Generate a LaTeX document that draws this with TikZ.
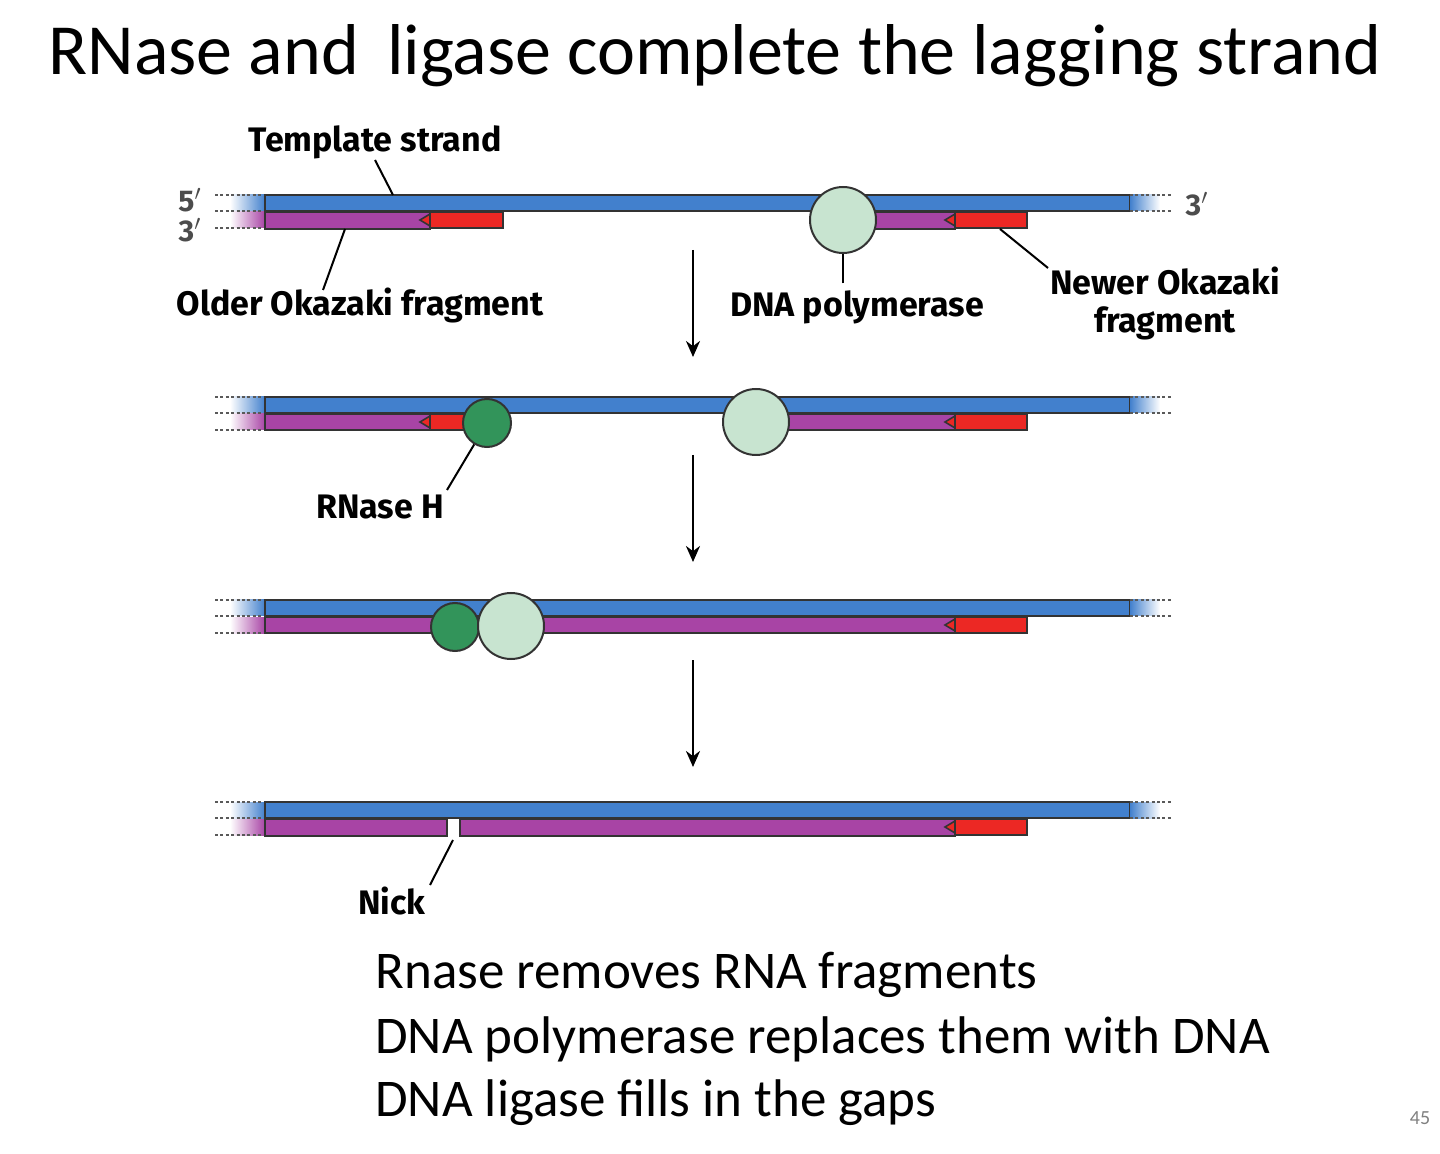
\documentclass[tikz,border=0pt]{standalone}
\usepackage{fontspec}
\setmainfont{Carlito}
\newfontfamily\lab{Fira Sans}
\usetikzlibrary{arrows.meta}
\begin{document}
\begin{tikzpicture}[x=0.5pt,y=-0.5pt,
  lbl/.style={font=\lab\fontsize{17}{19}\selectfont\bfseries,align=center},
  lead/.style={line width=1pt},
  dashline/.style={dash pattern=on 1.5pt off 1.2pt,line width=1.1pt,gray!70!black},
  bluebar/.style={fill=bluec,draw=black!80,line width=0.8pt},
  purpbar/.style={fill=purpc,draw=black!80,line width=0.8pt},
  redbar/.style={fill=redc,draw=black!80,line width=0.8pt},
  pol/.style={circle,fill=polc,draw=black!80,line width=1pt,minimum size=33pt,inner sep=0},
  rnh/.style={circle,fill=rnhc,draw=black!80,line width=1pt,minimum size=24pt,inner sep=0},
  steparrow/.style={-{Stealth[length=8pt,width=7pt]},line width=1.2pt}]
\definecolor{bluec}{RGB}{66,128,205}
\definecolor{purpc}{RGB}{168,68,165}
\definecolor{redc}{RGB}{236,40,36}
\definecolor{polc}{RGB}{200,228,208}
\definecolor{rnhc}{RGB}{50,148,90}
\useasboundingbox (0,0) rectangle (1440,1154);
\node[anchor=base west,font=\fontsize{36}{40}\selectfont,inner sep=0] (title) at (48,75) {RNase and\, ligase complete the lagging strand};
\newcommand{\mystrand}[1]{%
  \fill[left color=white,right color=bluec] (230,#1) rectangle (265,#1+16);
  \fill[left color=white,right color=purpc] (230,#1+17) rectangle (265,#1+33);
  \draw[dashline] (215,#1) -- (265,#1) (215,#1+16) -- (265,#1+16) (215,#1+33) -- (265,#1+33);
  \draw[bluebar] (265,#1) rectangle (1130,#1+16);
  \fill[left color=bluec,right color=white] (1130,#1) rectangle (1160,#1+16);
  \draw[dashline] (1130,#1) -- (1172,#1) (1130,#1+16) -- (1172,#1+16);}
\newcommand{\myprimer}[3]{%
  \draw[redbar] (#1,#3) rectangle (#2,#3+16);
  \draw[redbar] (#1,#3+2) -- (#1,#3+14) -- (#1-10,#3+8) -- cycle;}
% Row 1
\mystrand{195}
\draw[purpbar] (265,212) rectangle (430,229);
\myprimer{430}{503}{212}
\draw[purpbar] (875,212) rectangle (955,229);
\myprimer{955}{1027}{212}
\node[pol] (p1) at (843,220) {};
\node[font=\lab\fontsize{15}{17}\selectfont\bfseries,text=black!70] (f5) at (190,200) {5$'$};
\node[font=\lab\fontsize{15}{17}\selectfont\bfseries,text=black!70] (f3) at (190,230) {3$'$};
\node[font=\lab\fontsize{15}{17}\selectfont\bfseries,text=black!70] (r3) at (1197,204) {3$'$};
\node[lbl] (tmpl) at (375,142) {Template strand};
\coordinate (tmplE) at (393,195);
\draw[lead] (375,160) -- (tmplE);
\node[lbl] (older) at (360,305) {Older Okazaki fragment};
\coordinate (olderE) at (345,229);
\draw[lead] (323,290) -- (olderE);
\node[lbl] (dnap) at (857,307) {DNA polymerase};
\draw[lead] (dnap.north -| p1) -- (p1.south);
\node[lbl] (newer) at (1165,303) {Newer Okazaki\\fragment};
\coordinate (newerE) at (1000,229);
\draw[lead] (1048,268) -- (newerE);
\coordinate (a1s) at (693,250); \coordinate (a1e) at (693,357);
\draw[steparrow] (a1s) -- (a1e);
% Row 2
\mystrand{397}
\draw[purpbar] (265,414) rectangle (430,430);
\myprimer{430}{465}{414}
\draw[purpbar] (785,414) rectangle (955,430);
\myprimer{955}{1027}{414}
\node[rnh] (h2) at (487,423) {};
\node[pol] (p2) at (756,422) {};
\node[lbl] (rnase) at (380,507) {RNase H};
\draw[lead] (447,490) -- (h2);
\coordinate (a2s) at (693,455); \coordinate (a2e) at (693,562);
\draw[steparrow] (a2s) -- (a2e);
% Row 3
\mystrand{600}
\draw[purpbar] (265,617) rectangle (955,633);
\myprimer{955}{1027}{617}
\node[rnh] (h3) at (455,627) {};
\node[pol] (p3) at (511,626) {};
\coordinate (a3s) at (693,660); \coordinate (a3e) at (693,767);
\draw[steparrow] (a3s) -- (a3e);
% Row 4
\mystrand{802}
\draw[purpbar] (265,819) rectangle (447,836);
\draw[purpbar] (460,819) rectangle (955,836);
\myprimer{955}{1027}{819}
\node[lbl] (nick) at (392,901) {Nick};
\coordinate (nickE) at (453,840);
\draw[lead] (430,885) -- (nickE);
\node[anchor=base west,inner sep=0,font=\fontsize{26.5}{30}\selectfont] (t1) at (375,988) {Rnase removes RNA fragments};
\node[anchor=base west,inner sep=0,font=\fontsize{26.5}{30}\selectfont] (t2) at (375,1053) {DNA polymerase replaces them with DNA};
\node[anchor=base west,inner sep=0,font=\fontsize{26.5}{30}\selectfont] (t3) at (375,1116) {DNA ligase fills in the gaps};
\node[anchor=base,font=\fontsize{10}{11}\selectfont,text=gray] (pg) at (1420,1124) {45};
\end{tikzpicture}
\end{document}
